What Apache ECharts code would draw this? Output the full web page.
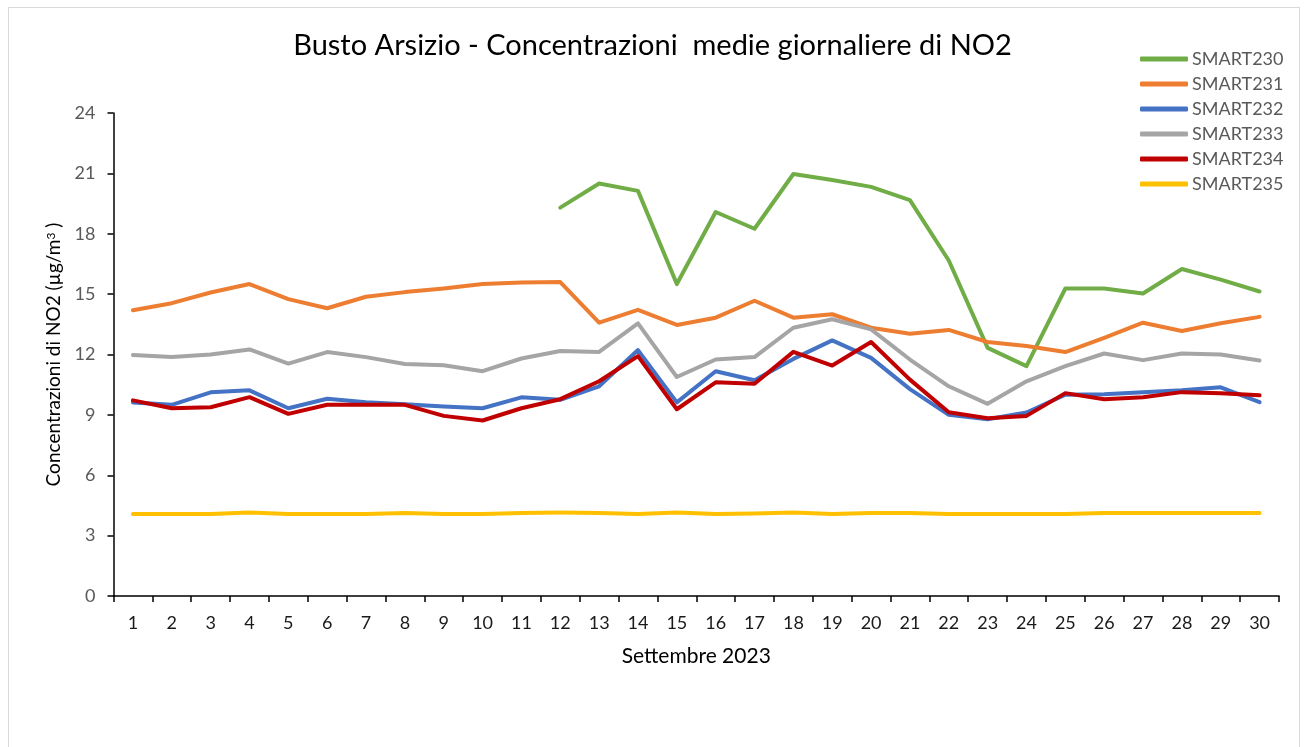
<!DOCTYPE html>
<html>
<head>
<meta charset="utf-8">
<script src="https://cdn.jsdelivr.net/npm/echarts@6/dist/echarts.min.js"></script>
<style>
html,body{margin:0;padding:0;background:#fff;}
#frame{position:absolute;left:8px;top:7px;width:1292px;height:800px;border:1px solid #d9d9d9;box-sizing:border-box;}
#chart{position:absolute;left:0;top:0;width:1305px;height:747px;}
</style>
</head>
<body>
<div id="frame"></div>
<div id="chart"></div>
<script>
const days = ['1','2','3','4','5','6','7','8','9','10','11','12','13','14','15','16','17','18','19','20','21','22','23','24','25','26','27','28','29','30'];
const seriesNames = ['SMART230','SMART231','SMART232','SMART233','SMART234','SMART235'];
const smart230 = [null,null,null,null,null,null,null,null,null,null,null,19.3,20.5,20.13,15.5,19.08,18.25,20.97,20.67,20.33,19.67,16.67,12.33,11.42,15.28,15.28,15.03,16.25,15.72,15.13];
const smart231 = [14.2,14.55,15.08,15.5,14.75,14.3,14.87,15.1,15.28,15.5,15.58,15.6,13.58,14.22,13.47,13.83,14.67,13.83,14.0,13.33,13.03,13.22,12.62,12.42,12.12,12.83,13.58,13.17,13.55,13.87];
const smart232 = [9.62,9.5,10.12,10.22,9.33,9.8,9.63,9.53,9.42,9.33,9.87,9.75,10.42,12.22,9.62,11.17,10.72,11.78,12.7,11.83,10.28,9.0,8.78,9.12,10.0,10.03,10.13,10.22,10.37,9.63];
const smart233 = [11.97,11.88,12.0,12.25,11.55,12.12,11.87,11.53,11.47,11.17,11.8,12.17,12.13,13.55,10.88,11.75,11.87,13.33,13.75,13.25,11.75,10.42,9.55,10.67,11.42,12.05,11.72,12.05,12.0,11.7];
const smart234 = [9.72,9.33,9.38,9.88,9.05,9.5,9.5,9.5,8.95,8.72,9.33,9.78,10.67,11.92,9.28,10.62,10.55,12.13,11.45,12.62,10.75,9.13,8.83,8.95,10.08,9.78,9.88,10.13,10.08,9.97];
const smart235 = [4.08,4.08,4.08,4.15,4.08,4.08,4.08,4.13,4.08,4.08,4.13,4.15,4.13,4.08,4.15,4.08,4.1,4.15,4.08,4.13,4.13,4.08,4.08,4.08,4.08,4.12,4.12,4.12,4.12,4.12];
const yTicks = [0,3,6,9,12,15,18,21,24];
const colors = ['#70AD47','#ED7D31','#4472C4','#A5A5A5','#C00000','#FFC000'];
const allData = [smart230,smart231,smart232,smart233,smart234,smart235];

const chart = echarts.init(document.getElementById('chart'), null, {renderer:'canvas'});
const FONT = 'Lato';
chart.setOption({
  backgroundColor: 'transparent',
  animation: false,
  title: {
    text: 'Busto Arsizio - Concentrazioni  medie giornaliere di NO2',
    left: 'center',
    top: 31,
    padding: 0,
    textStyle: {fontFamily: FONT, fontSize: 29, fontWeight: 'normal', color: '#000'}
  },
  legend: {
    orient: 'vertical',
    left: 1140,
    top: 49,
    padding: 0,
    itemGap: 5,
    itemWidth: 48,
    itemHeight: 5,
    icon: 'roundRect',
    data: seriesNames,
    textStyle: {fontFamily: FONT, fontSize: 18, color: '#595959', lineHeight: 20, padding: [0,0,0,-1]}
  },
  grid: {left: 113.5, right: 26, top: 113, bottom: 151, containLabel: false},
  xAxis: {
    type: 'category',
    data: days,
    boundaryGap: true,
    name: 'Settembre 2023',
    nameLocation: 'middle',
    nameGap: 50,
    nameTextStyle: {fontFamily: FONT, fontSize: 21, color: '#000'},
    axisLine: {lineStyle: {color: '#000', width: 1.5}},
    axisTick: {show: true, length: 6, lineStyle: {color: '#000', width: 1.5}},
    axisLabel: {fontFamily: FONT, fontSize: 18, color: '#1a1a1a', margin: 18, interval: 0},
    splitLine: {show: false}
  },
  yAxis: {
    type: 'value',
    min: yTicks[0],
    max: yTicks[yTicks.length-1],
    interval: 3,
    name: 'Concentrazioni di NO2 (µg/m{sup|3} )',
    nameLocation: 'middle',
    nameGap: 48,
    nameRotate: 90,
    nameTextStyle: {fontFamily: FONT, fontSize: 19, color: '#000', rich: {sup: {fontFamily: FONT, fontSize: 12, color: '#000', verticalAlign: 'top', padding: [0,0,6,0]}}},
    axisLine: {show: true, lineStyle: {color: '#000', width: 1.5}},
    axisTick: {show: true, length: 6, lineStyle: {color: '#000', width: 1.5}},
    axisLabel: {fontFamily: FONT, fontSize: 18, color: '#595959', margin: 18},
    splitLine: {show: false}
  },
  series: seriesNames.map((n, i) => ({
    name: n,
    type: 'line',
    data: allData[i],
    showSymbol: false,
    symbol: 'none',
    connectNulls: false,
    color: colors[i],
    lineStyle: {width: 4, color: colors[i], cap: 'round', join: 'round'},
    itemStyle: {color: colors[i]}
  }))
});
</script>
</body>
</html>
